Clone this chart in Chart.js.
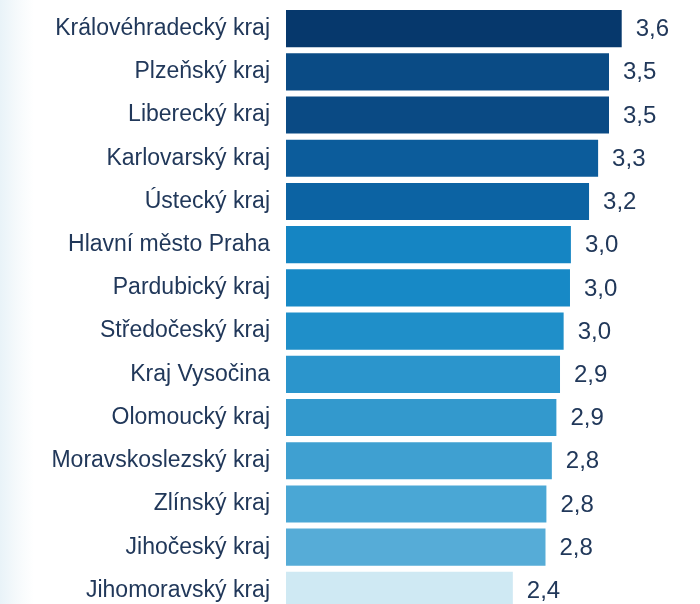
<!DOCTYPE html>
<html>
<head>
<meta charset="utf-8">
<script src="https://cdn.jsdelivr.net/npm/chart.js@4"></script>
<style>
  html, body { margin: 0; padding: 0; overflow: hidden; width: 700px; height: 604px; }
  body { background: linear-gradient(to right, #e9f3f8 0px, #f6fafc 18px, #ffffff 34px); }
  #wrap { position: absolute; left: 0; top: 0; width: 700px; height: 612px; }
</style>
</head>
<body>
<div id="wrap"><canvas id="c"></canvas></div>
<script>
const regions = [
  "Královéhradecký kraj", "Plzeňský kraj", "Liberecký kraj", "Karlovarský kraj",
  "Ústecký kraj", "Hlavní město Praha", "Pardubický kraj", "Středočeský kraj",
  "Kraj Vysočina", "Olomoucký kraj", "Moravskoslezský kraj", "Zlínský kraj",
  "Jihočeský kraj", "Jihomoravský kraj"
];
const values = [3.60, 3.46, 3.46, 3.34, 3.24, 3.04, 3.03, 2.96, 2.92, 2.88, 2.83, 2.77, 2.76, 2.40];
const barColors = [
  "#06386c", "#0a4b85", "#0a4a84", "#0c5c9b", "#0c63a3", "#1585c3", "#1789c6",
  "#1f8fc9", "#2b95cc", "#3399cd", "#3fa0d1", "#4aa7d5", "#56acd7", "#cfe9f3"
];
const axisMin = -0.1;
const axisMax = 4.0;

const FONT = "'Liberation Sans', Arial, sans-serif";
const TEXT = "#21385a";

const valueLabels = {
  id: "valueLabels",
  afterDatasetsDraw(chart) {
    const ctx = chart.ctx;
    const meta = chart.getDatasetMeta(0);
    ctx.save();
    ctx.font = "24px " + FONT;
    ctx.fillStyle = TEXT;
    ctx.textAlign = "left";
    ctx.textBaseline = "middle";
    meta.data.forEach((el, i) => {
      const txt = values[i].toFixed(1).replace(".", ",");
      ctx.fillText(txt, el.x + 14, el.y + 1);
    });
    ctx.restore();
  }
};

new Chart(document.getElementById("c"), {
  type: "bar",
  data: {
    labels: regions,
    datasets: [{
      data: values,
      base: axisMin,
      backgroundColor: barColors,
      borderWidth: 0,
      barPercentage: 0.86,
      categoryPercentage: 1.0
    }]
  },
  options: {
    indexAxis: "y",
    responsive: true,
    maintainAspectRatio: false,
    animation: false,
    layout: { padding: { top: 7, bottom: 0, left: 0, right: 42 } },
    plugins: { legend: { display: false }, tooltip: { enabled: false } },
    scales: {
      x: {
        min: axisMin, max: axisMax,
        display: false,
        afterFit(s) { s.paddingLeft = 0; s.paddingRight = 0; s.paddingTop = 0; s.paddingBottom = 0; }
      },
      y: {
        grid: { display: false, drawTicks: false },
        border: { display: false },
        ticks: {
          font: { family: FONT, size: 23 },
          color: TEXT,
          padding: 16,
          autoSkip: false
        },
        afterFit(s) {
          s.width = 286;
          s.paddingTop = 0; s.paddingBottom = 0; s.paddingLeft = 0; s.paddingRight = 0;
        }
      }
    }
  },
  plugins: [valueLabels]
});
</script>
</body>
</html>
